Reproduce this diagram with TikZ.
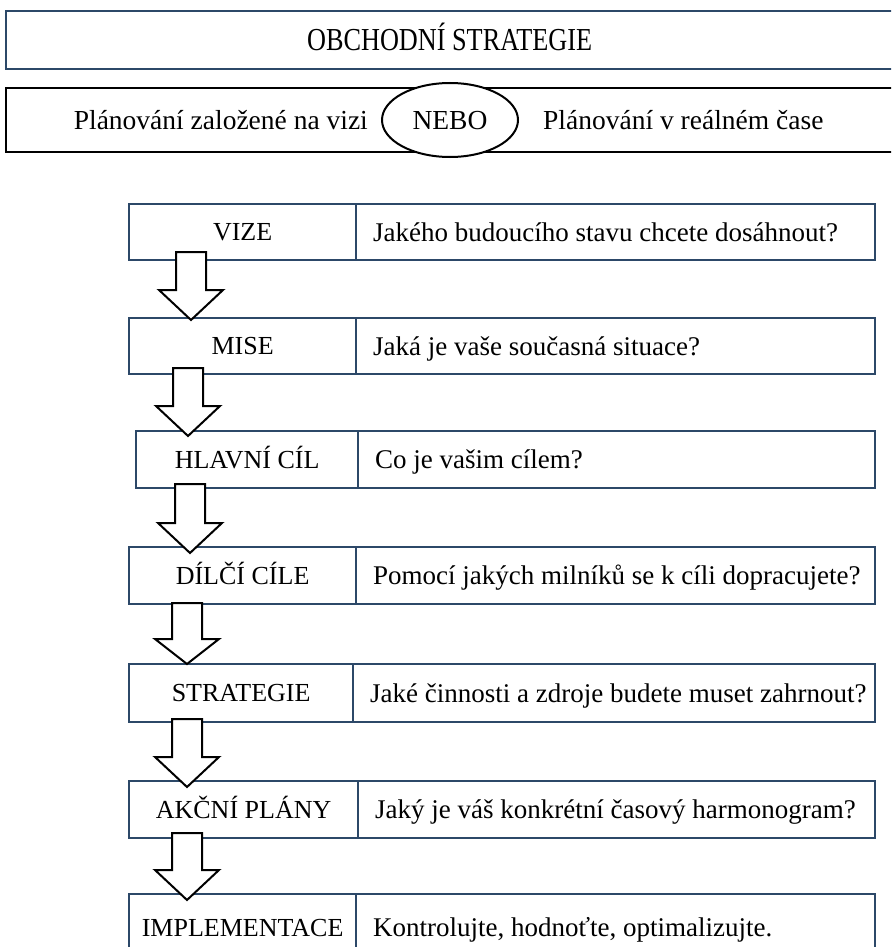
\documentclass[tikz,border=0pt]{standalone}
\usepackage{fontspec}
\setmainfont{Liberation Serif}
\usetikzlibrary{shapes.geometric}
\definecolor{boxblue}{RGB}{44,72,104}
\tikzset{
  framebox/.style={draw=boxblue, line width=2.2pt, rectangle, inner sep=0pt, anchor=north west},
  blackbox/.style={draw=black, line width=2.4pt, rectangle, inner sep=0pt, anchor=north west},
  % text boxes sized to the capital height so that capitals sit centred
  labeltext/.style={font=\fontsize{26}{30}\selectfont, inner sep=0pt, text height=17.2pt, text depth=0pt},
  rowtext/.style={font=\fontsize{27}{31}\selectfont, inner sep=0pt, text height=17.8pt, text depth=0pt},
  titletext/.style={font=\fontsize{32}{36}\selectfont, inner sep=0pt, text height=21.2pt, text depth=0pt},
  headtext/.style={font=\fontsize{27.5}{31}\selectfont, inner sep=0pt, text height=18.2pt, text depth=0pt},
  orshape/.style={ellipse, draw=black, line width=2pt, fill=white, minimum width=136pt, minimum height=74pt, inner sep=0pt},
  downarrow/.style={draw=black, line width=2pt, fill=white, line join=miter}
}
% block arrow: centre x, shaft top, head base, tip
\newcommand\blockarrow[4]{%
  \draw[downarrow] (#1-15,#2) -- (#1+15,#2) -- (#1+15,#3) -- (#1+32,#3)
    -- (#1,#4) -- (#1-32,#3) -- (#1-15,#3) -- cycle;}
% one row: name, left x, divider x, right x, top y, bottom y, label, question
\newcommand\planrow[8]{%
  \node[framebox, minimum width={#3-#2}, minimum height={#6-#5}] (l#1) at (#2,#5) {};
  \node[framebox, minimum width={#4-#3}, minimum height={#6-#5}] (r#1) at (#3,#5) {};
  \node[labeltext] (lt#1) at (l#1.center) {#7};
  \node[rowtext, anchor=west] (rt#1) at ([xshift=18pt]r#1.west) {#8};}
\begin{document}
\begin{tikzpicture}[x=1pt,y=-1pt]
\useasboundingbox (0,0) rectangle (891,947);
\clip (0,0) rectangle (891,947);

% heading
\node[framebox, minimum width=887pt, minimum height=58pt] (head) at (5,10) {};
\node[titletext] (headt) at (head.center) {\scalebox{0.82}[1]{OBCHODNÍ STRATEGIE}};

% planning alternatives
\node[blackbox, minimum width=887pt, minimum height=64pt] (alt) at (5,87) {};
\node[orshape] (or) at (450,120) {};
\node[headtext] (ort) at (or.center) {NEBO};
\node[headtext, anchor=east] (altl) at (368,120) {Plánování založené na vizi};
\node[headtext, anchor=west] (altr) at (543,120) {Plánování v reálném čase};

% planning levels
\planrow{1}{128}{355}{874}{203}{259}{VIZE}{Jakého budoucího stavu chcete dosáhnout?}
\planrow{2}{128}{355}{874}{317}{373}{MISE}{Jaká je vaše současná situace?}
\planrow{3}{135}{357}{874}{430}{487}{HLAVNÍ CÍL}{Co je vašim cílem?}
\planrow{4}{128}{355}{874}{546}{603}{DÍLČÍ CÍLE}{Pomocí jakých milníků se k cíli dopracujete?}
\planrow{5}{128}{352}{874}{663}{721}{STRATEGIE}{Jaké činnosti a zdroje budete muset zahrnout?}
\planrow{6}{128}{357}{874}{780}{837}{AKČNÍ PLÁNY}{Jaký je váš konkrétní časový harmonogram?}
\planrow{7}{128}{355}{874}{893}{960}{IMPLEMENTACE}{Kontrolujte, hodnoťte, optimalizujte.}

% flow arrows between levels
\blockarrow{191}{252}{290}{320}
\blockarrow{188}{368}{406}{436}
\blockarrow{190}{484}{523}{553}
\blockarrow{187}{603}{639}{664}
\blockarrow{187}{719}{757}{787}
\blockarrow{187}{833}{870}{900}
\end{tikzpicture}
\end{document}
